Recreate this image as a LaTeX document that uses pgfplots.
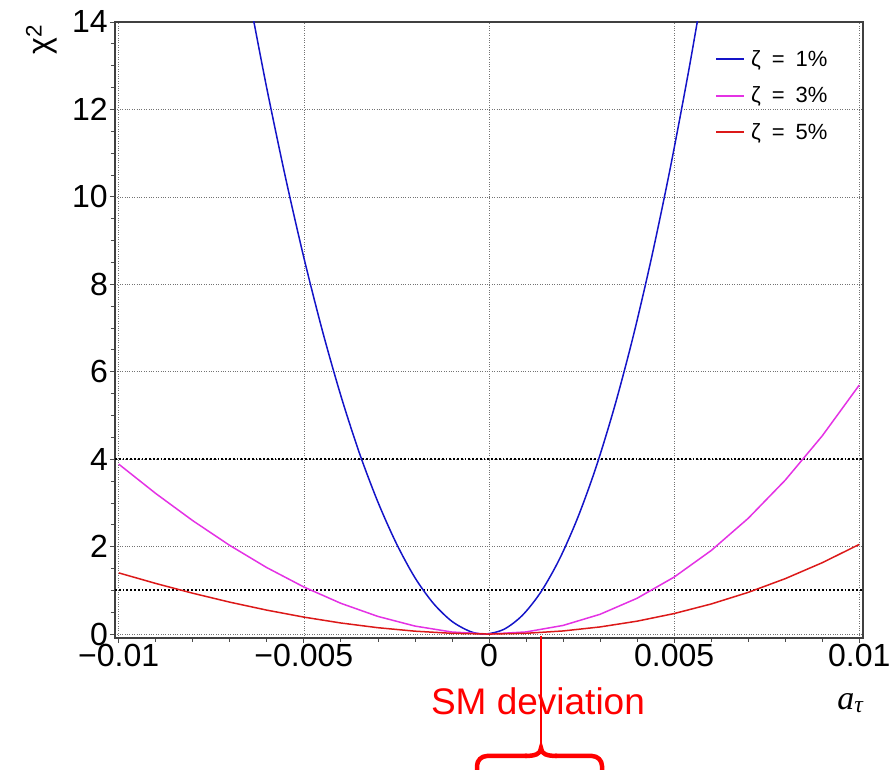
\documentclass[border=0pt]{standalone}
\usepackage{pgfplots}
\pgfplotsset{compat=1.18}
\usepackage{fontspec}
\setmainfont{Liberation Sans}
\newfontfamily\serifface{Liberation Serif}
\definecolor{cblue}{RGB}{20,20,200}
\definecolor{cmag}{RGB}{228,50,228}
\definecolor{cred}{RGB}{220,25,25}
\begin{document}
\begin{tikzpicture}
\begin{axis}[
 width=748pt, height=616pt, scale only axis,
 xmin=-0.0101, xmax=0.0101, ymin=-0.09, ymax=14,
 scaled x ticks=false, scaled y ticks=false,
 axis line style={draw=black!75, line width=1.2pt},
 xtick={-0.01,-0.005,0,0.005,0.01},
 xticklabels={−0.01,−0.005,0,0.005,0.01},
 ytick={0,2,4,6,8,10,12,14},
 yticklabels={0,2,4,6,8,10,12,14},
 minor x tick num=4, minor y tick num=3,
 tick align=outside, tick pos=left,
 major tick length=5pt, minor tick length=4pt,
 tick style={black!70, line width=0.8pt},
 grid=major,
 major grid style={black!55, dotted, line width=0.7pt},
 ticklabel style={font=\fontsize{32}{38}\selectfont},
 xticklabel style={inner sep=1pt},
 yticklabel style={inner sep=2pt},
 xlabel={{\serifface\itshape a}\textsubscript{\serifface\itshape τ}},
 xlabel style={at={(axis description cs:0.983,-0.1055)}, anchor=center, font=\fontsize{34}{40}\selectfont},
 ylabel={χ\textsuperscript{2}},
 ylabel style={at={(axis description cs:-0.098,0.972)}, anchor=center, font=\fontsize{32}{38}\selectfont},
 legend style={at={(axis description cs:0.802,0.954)}, anchor=north west, draw=none, fill=none,
   font=\fontsize{22}{26}\selectfont, inner sep=0pt, row sep=19pt,
   nodes={inner xsep=6pt, inner ysep=0pt}},
 legend cell align=left,
 legend image code/.code={\draw[line width=2pt] (0pt,0pt) -- (28pt,0pt);},
]
\addplot[black, dotted, line width=1.8pt, forget plot] coordinates {(-0.0101,4) (0.0101,4)};
\addplot[black, dotted, line width=1.8pt, forget plot] coordinates {(-0.0101,1) (0.0101,1)};

\addplot[cblue, line width=1.5pt, smooth] coordinates {
(-0.0064,14.23) (-0.0060,12.48) (-0.0055,10.46) (-0.0050,8.61) (-0.0045,6.94)
(-0.0040,5.45) (-0.0035,4.14) (-0.0030,3.02) (-0.0025,2.07) (-0.0020,1.29)
(-0.0015,0.70) (-0.0010,0.29) (-0.0005,0.057) (-0.0001,0)
(0.0004,0.107) (0.0009,0.427) (0.0014,0.961) (0.0019,1.709) (0.0024,2.67)
(0.0029,3.84) (0.0034,5.23) (0.0039,6.83) (0.0044,8.65) (0.0049,10.68)
(0.0054,12.92) (0.0058,14.87)};
\addlegendentry{ζ\hspace{0.5em}=\hspace{0.5em}1\%}

\addplot[cmag, line width=1.5pt] coordinates {
(-0.010,3.8875) (-0.009,3.2156) (-0.008,2.5939) (-0.007,2.0269) (-0.006,1.5197)
(-0.005,1.0769) (-0.004,0.7031) (-0.003,0.4033) (-0.002,0.1828) (-0.001,0.0466)
(0,0) (0.001,0.0484) (0.002,0.1972) (0.003,0.4522) (0.004,0.8189)
(0.005,1.3031) (0.006,1.9106) (0.007,2.6475) (0.008,3.5200) (0.009,4.5342) (0.010,5.6961)};
\addlegendentry{ζ\hspace{0.5em}=\hspace{0.5em}3\%}

\addplot[cred, line width=1.5pt] coordinates {
(-0.010,1.3995) (-0.009,1.1576) (-0.008,0.9338) (-0.007,0.7297) (-0.006,0.5471)
(-0.005,0.3877) (-0.004,0.2531) (-0.003,0.1452) (-0.002,0.0658) (-0.001,0.0168)
(0,0) (0.001,0.0174) (0.002,0.0710) (0.003,0.1628) (0.004,0.2948)
(0.005,0.4691) (0.006,0.6878) (0.007,0.9531) (0.008,1.2672) (0.009,1.6323) (0.010,2.0506)};
\addlegendentry{ζ\hspace{0.5em}=\hspace{0.5em}5\%}
\end{axis}
\node[red, anchor=base, font=\fontsize{37}{44}\selectfont, inner sep=0pt] at (423pt,-77pt) {SM deviation};
\draw[red, line width=1.2pt] (426pt,2pt) -- (426pt,-39pt);
\draw[red, line width=2.8pt] (426pt,-39pt) -- (426pt,-112pt);
\draw[red, line width=4.5pt, rounded corners=10pt] (362pt,-145pt) -- (362pt,-118pt) -- (412pt,-118pt);
\draw[red, line width=4.5pt] (410pt,-118pt) .. controls (420pt,-118pt) and (426pt,-116pt) .. (426pt,-110pt) .. controls (426pt,-116pt) and (432pt,-118pt) .. (442pt,-118pt);
\draw[red, line width=4.5pt, rounded corners=10pt] (440pt,-118pt) -- (487pt,-118pt) -- (487pt,-145pt);
\pgfresetboundingbox
\path[use as bounding box] (-115pt,-132pt) rectangle (780pt,638pt);
\end{tikzpicture}
\end{document}
